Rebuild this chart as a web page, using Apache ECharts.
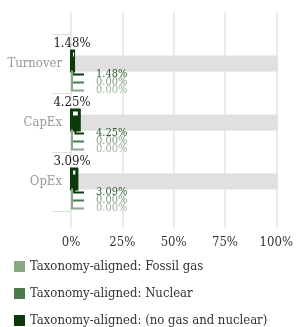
<!DOCTYPE html>
<html>
<head>
<meta charset="utf-8">
<script src="https://cdn.jsdelivr.net/npm/echarts@6/dist/echarts.min.js"></script>
<style>
  html, body { margin: 0; padding: 0; background: #fff; }
  #chart { width: 296px; height: 327px; }
</style>
</head>
<body>
<div id="chart"></div>
<script>
var categories = ['Turnover', 'CapEx', 'OpEx'];
var fossilGas = [0, 0, 0];
var nuclear = [0, 0, 0];
var noGasNuclear = [1.48, 4.25, 3.09];
var xTicks = [0, 25, 50, 75, 100];

var NAME_GAS = 'Taxonomy-aligned: Fossil gas';
var NAME_NUC = 'Taxonomy-aligned: Nuclear';
var NAME_NO = 'Taxonomy-aligned: (no gas and nuclear)';
var FONT_C = 'DejaVu Serif Condensed';

// stack order: no gas first, then nuclear, then fossil gas
function stackData(vals, below) {
    return vals.map(function (v, i) {
        var s = 0;
        below.forEach(function (b) { s += b[i]; });
        return [i, v, s];
    });
}

function totalData() {
    return categories.map(function (c, i) {
        return [i, noGasNuclear[i] + nuclear[i] + fossilGas[i]];
    });
}

function renderBack(params, api) {
    var ci = api.value(0);
    var p0 = api.coord([0, ci]);
    var p1 = api.coord([100, ci]);
    var cy = p0[1];
    return {
        type: 'group',
        children: [
            { type: 'rect', shape: { x: p0[0], y: cy - 8, width: p1[0] - p0[0], height: 16 },
              style: { fill: '#e0e0e0' } },
            { type: 'text', style: { x: p0[0] + 1, y: cy - 20, text: api.value(1).toFixed(2) + '%',
              fill: '#222', font: '13px "' + FONT_C + '"', align: 'center', verticalAlign: 'middle' } }
        ]
    };
}

function makeSeg(color, labelColor, offset, main) {
    return function (params, api) {
        var ci = api.value(0), v = api.value(1), s = api.value(2);
        var x0 = api.coord([0, ci])[0];
        var pa = api.coord([s, ci]);
        var pb = api.coord([s + v, ci]);
        var cy = pa[1];
        var w = pb[0] - pa[0];
        var xa = v > 0 ? pa[0] + w / 2 : x0 + 1;
        var kids = [];
        if (v > 0) {
            kids.push({ type: 'rect', shape: { x: pa[0], y: cy - 13, width: Math.max(w, 3), height: 21 },
                style: { fill: color, stroke: color, lineWidth: 2 } });
            if (main) {
                kids.push({ type: 'rect', shape: { x: pa[0] + 2, y: cy - 11, width: Math.max(w - 4, 1), height: 4 },
                    style: { fill: '#fff' } });
            }
        }
        kids.push({ type: 'polyline', shape: { points: [[xa, cy + 7], [xa, cy + offset], [x0 + 13, cy + offset]] },
            style: { stroke: color, lineWidth: 2, fill: null } });
        kids.push({ type: 'text', style: { x: x0 + 25, y: cy + offset, text: v.toFixed(2) + '%',
            fill: labelColor, font: '11px "' + FONT_C + '"', verticalAlign: 'middle' } });
        return { type: 'group', children: kids };
    };
}

var chart = echarts.init(document.getElementById('chart'));
chart.setOption({
    animation: false,
    legend: {
        orient: 'vertical',
        left: 14,
        top: 260,
        height: 120,
        padding: 0,
        icon: 'rect',
        itemWidth: 11,
        itemHeight: 11,
        itemGap: 14,
        textStyle: { fontFamily: FONT_C, fontSize: 13, color: '#333' },
        data: [NAME_GAS, NAME_NUC, NAME_NO]
    },
    grid: [
        { left: 71, right: 18, top: 12, bottom: 99 },
        { left: 71, right: 18, top: 34, bottom: 116 }
    ],
    xAxis: [
        {
            gridIndex: 0, type: 'value', min: xTicks[0], max: xTicks[xTicks.length - 1], interval: 25,
            axisLine: { show: false }, axisTick: { show: false },
            axisLabel: { formatter: '{value}%', color: '#333', fontFamily: FONT_C, fontSize: 13, margin: 8 },
            splitLine: { lineStyle: { color: '#ebebeb', width: 2 } }
        },
        { gridIndex: 1, type: 'value', min: 0, max: 100, show: false }
    ],
    yAxis: [
        { gridIndex: 0, type: 'category', data: [''], show: false },
        {
            gridIndex: 1, type: 'category', data: categories, inverse: true,
            axisLine: { show: false },
            axisTick: { show: true, length: 19, lineStyle: { color: '#ddd' } },
            axisLabel: { color: '#999', fontFamily: FONT_C, fontSize: 13, margin: 9 },
            splitLine: { show: false }
        }
    ],
    series: [
        { type: 'custom', xAxisIndex: 1, yAxisIndex: 1, renderItem: renderBack, data: totalData(), silent: true },
        { name: NAME_NO, type: 'custom', xAxisIndex: 1, yAxisIndex: 1, itemStyle: { color: '#0b3a0b' },
          renderItem: makeSeg('#0b3a0b', '#2f5a2f', 11, true), data: stackData(noGasNuclear, []) },
        { name: NAME_NUC, type: 'custom', xAxisIndex: 1, yAxisIndex: 1, itemStyle: { color: '#4b7a4b' },
          renderItem: makeSeg('#4b7a4b', '#7f9f7f', 19, false), data: stackData(nuclear, [noGasNuclear]) },
        { name: NAME_GAS, type: 'custom', xAxisIndex: 1, yAxisIndex: 1, itemStyle: { color: '#88a888' },
          renderItem: makeSeg('#88a888', '#9ab49a', 27, false), data: stackData(fossilGas, [noGasNuclear, nuclear]) }
    ]
});
</script>
</body>
</html>
